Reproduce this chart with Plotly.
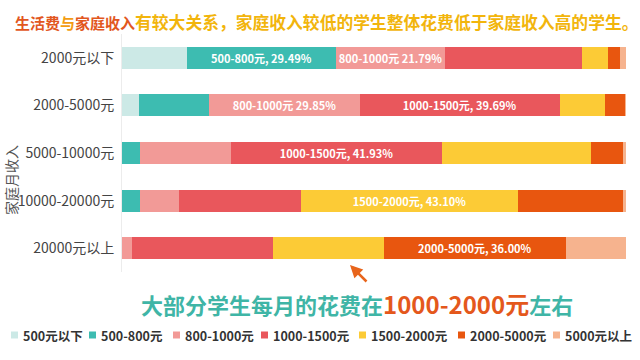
import plotly.graph_objects as go

# ---------------- data ----------------
incomes = ["2000元以下", "2000-5000元", "5000-10000元", "10000-20000元", "20000元以上"]
spend_levels = ["500元以下", "500-800元", "800-1000元", "1000-1500元", "1500-2000元", "2000-5000元", "5000元以上"]

share_lt500     = [12.9, 3.4, 0.0, 0.0, 0.0]
share_500_800   = [29.49, 13.9, 3.6, 3.6, 0.0]
share_800_1000  = [21.79, 29.85, 18.0, 7.7, 2.0]
share_1000_1500 = [27.0, 39.69, 41.93, 24.2, 28.0]
share_1500_2000 = [5.2, 8.9, 29.6, 43.1, 22.0]
share_2000_5000 = [2.4, 4.16, 6.2, 20.8, 36.0]
share_gt5000    = [1.22, 0.1, 0.67, 0.6, 12.0]

series = [share_lt500, share_500_800, share_800_1000, share_1000_1500,
          share_1500_2000, share_2000_5000, share_gt5000]

# which segments carry a value label (income row index per series)
labels = {
    1: {0: "500-800元, 29.49%"},
    2: {0: "800-1000元 21.79%", 1: "800-1000元 29.85%"},
    3: {1: "1000-1500元, 39.69%", 2: "1000-1500元, 41.93%"},
    4: {3: "1500-2000元, 43.10%"},
    5: {4: "2000-5000元, 36.00%"},
}

colors = ["#cce9e6", "#3dbcb1", "#f29a97", "#e9575c", "#fccb36", "#e8560f", "#f6b38e"]

FONT = "Noto Sans CJK SC"

# ---------------- layout geometry (px) ----------------
W, H = 640, 360
ML, MR, MT, MB = 122, 14, 34, 88
PW, PH = W - ML - MR, H - MT - MB

def px_x(px):
    return (px - ML) / PW

def px_y(py):
    return (H - MB - py) / PH

fig = go.Figure()
for i, (name, vals) in enumerate(zip(spend_levels, series)):
    txt = [labels.get(i, {}).get(j, "") for j in range(len(incomes))]
    fig.add_trace(go.Bar(
        y=incomes, x=vals, name=name, orientation="h",
        marker=dict(color=colors[i], line=dict(width=0)),
        text=txt, textposition="inside", insidetextanchor="middle",
        textfont=dict(color="white", size=11, family=FONT, weight="bold"),
        constraintext="none", cliponaxis=False,
        hoverinfo="skip", showlegend=False,
    ))

annotations = []
shapes = []

# title
title_html = (
    '<span style="color:#e2571e;font-size:15px">生活费</span>'
    '<span style="color:#f39c12;font-size:15px">与</span>'
    '<span style="color:#e2571e;font-size:15px">家庭收入</span>'
    '<span style="color:#f2b50c">有较大关系，家庭收入较低的学生整体花费低于家庭收入高的学生。</span>'
)
annotations.append(dict(
    text=title_html, xref="paper", yref="paper", x=px_x(13), y=px_y(22),
    xanchor="left", yanchor="middle", showarrow=False,
    font=dict(family=FONT, size=16.8, weight="bold"),
))

# y-axis title
annotations.append(dict(
    text="家庭月收入", xref="paper", yref="paper", x=px_x(11), y=px_y(180),
    xanchor="center", yanchor="middle", showarrow=False, textangle=-90,
    font=dict(family=FONT, size=14, color="#555555"),
))

# callout text
callout = (
    '<span style="color:#3fb5a6">大部分学生每月的花费在</span>'
    '<span style="color:#e4581c;font-size:24px">1000-2000元</span>'
    '<span style="color:#3fb5a6">左右</span>'
)
annotations.append(dict(
    text=callout, xref="paper", yref="paper", x=px_x(139), y=px_y(303),
    xanchor="left", yanchor="middle", showarrow=False,
    font=dict(family=FONT, size=22, weight="bold"),
))

# arrow
annotations.append(dict(
    text="", xref="paper", yref="paper", x=px_x(350), y=px_y(265),
    ax=18, ay=18, showarrow=True, arrowhead=2, arrowsize=1,
    arrowwidth=2.5, arrowcolor="#e8651c",
))

# custom legend
legend_x_px = [11, 89, 173, 261, 359, 458, 553]
leg_y = 335
for name, col, lx in zip(spend_levels, colors, legend_x_px):
    shapes.append(dict(
        type="rect", xref="paper", yref="paper",
        x0=px_x(lx), x1=px_x(lx + 7), y0=px_y(leg_y + 3.5), y1=px_y(leg_y - 3.5),
        fillcolor=col, line=dict(width=0),
    ))
    annotations.append(dict(
        text=name, xref="paper", yref="paper", x=px_x(lx + 10), y=px_y(leg_y),
        xanchor="left", yanchor="middle", showarrow=False,
        font=dict(family=FONT, size=12.5, color="#333333", weight="bold"),
    ))

fig.update_layout(
    width=W, height=H,
    margin=dict(l=ML, r=MR, t=MT, b=MB, autoexpand=False),
    barmode="stack", bargap=0.54,
    plot_bgcolor="white", paper_bgcolor="white",
    showlegend=False,
    uniformtext=dict(minsize=11, mode="show"),
    xaxis=dict(range=[0, 100], visible=False, fixedrange=True),
    yaxis=dict(
        categoryorder="array", categoryarray=incomes, autorange="reversed",
        showline=True, linecolor="#ececec", linewidth=1,
        ticks="", ticklabelstandoff=4,
        tickfont=dict(family=FONT, size=14, color="#444444"),
        showgrid=False, zeroline=False, fixedrange=True,
    ),
    annotations=annotations,
    shapes=shapes,
    font=dict(family=FONT),
)

fig.write_html(
    "out.html",
    config={"displayModeBar": False},
    post_script="document.body.style.margin='0px';document.body.style.overflow='hidden';",
)
